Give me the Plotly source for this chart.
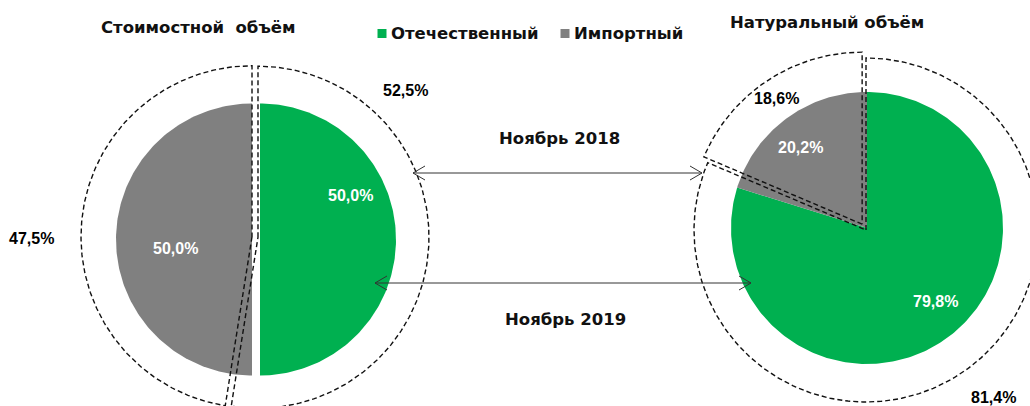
#!/usr/bin/env python3
import numpy as np
import plotly.graph_objects as go

# Data
categories = ['Отечественный', 'Импортный']
value_2018 = [52.5, 47.5]     # стоимостной объём, ноябрь 2018 (outer dashed)
value_2019 = [50.0, 50.0]     # стоимостной объём, ноябрь 2019 (inner solid)
natural_2018 = [81.4, 18.6]   # натуральный объём, ноябрь 2018 (outer dashed)
natural_2019 = [79.8, 20.2]   # натуральный объём, ноябрь 2019 (inner solid)
period_labels = ['Ноябрь 2018', 'Ноябрь 2019']
chart_titles = ['Стоимостной  объём', 'Натуральный объём']

colors = ['#00b050', '#808080']
W, H = 1030, 406
DASH = dict(color='#111111', width=1.4, dash='5px,3px')


def fmt(v):
    return f"{v:.1f}".replace('.', ',') + '%'


def wedges(values, cx, cy, r, explode):
    """Yield polygon (x, y) of every slice, clockwise from 12 o'clock, in pixel coords."""
    total = sum(values)
    start = 0.0
    for v, e in zip(values, explode):
        end = start + v / total * 360
        mid = np.radians((start + end) / 2)
        ox, oy = cx + e * np.sin(mid), cy - e * np.cos(mid)
        ang = np.radians(np.linspace(start, end, max(int(end - start), 2) + 1))
        xs = np.concatenate([[ox], ox + r * np.sin(ang), [ox]])
        ys = np.concatenate([[oy], oy - r * np.cos(ang), [oy]])
        yield xs, ys
        start = end


fig = go.Figure()

pies = [
    # (inner values, outer values, center, inner r, outer r, inner explode, outer explode, outer center)
    (value_2019, value_2018, (256, 239.5), 136, 171, [4, 4], [3, 3], (255, 237)),
    (natural_2019, natural_2018, (867, 228), 136, 172, [0, 0], [0, 7], (866, 230)),
]

for inner, outer, (cx, cy), ri, ro, ei, eo, (ocx, ocy) in pies:
    for (xs, ys), col, name in zip(wedges(inner, cx, cy, ri, ei), colors, categories):
        fig.add_trace(go.Scatter(x=xs, y=ys, mode='lines', fill='toself',
                                 fillcolor=col, line=dict(width=0), name=name,
                                 showlegend=False, hoverinfo='skip'))
    for xs, ys in wedges(outer, ocx, ocy, ro, eo):
        fig.add_trace(go.Scatter(x=xs, y=ys, mode='lines', line=DASH,
                                 showlegend=False, hoverinfo='skip'))

# Percentage labels
pct_font = dict(family='Liberation Sans, Arial', size=16)
labels = [
    (value_2019[0], 350, 195, 'white'), (value_2019[1], 175, 248, 'white'),
    (value_2018[0], 405, 90, 'black'), (value_2018[1], 31, 238, 'black'),
    (natural_2019[0], 935, 301, 'white'), (natural_2019[1], 800, 147, 'white'),
    (natural_2018[0], 993, 397, 'black'), (natural_2018[1], 776, 98, 'black'),
]
for v, x, y, c in labels:
    fig.add_annotation(x=x, y=y, text=f"<b>{fmt(v)}</b>", showarrow=False,
                       font=dict(color=c, **pct_font), xanchor='center', yanchor='middle')

title_font = dict(family='DejaVu Sans', size=16.5, color='#111111')
for t, x, y in zip(chart_titles, [198, 827], [27, 22]):
    fig.add_annotation(x=x, y=y, text=f"<b>{t}</b>", showarrow=False, font=title_font,
                       xanchor='center', yanchor='middle')

for t, x, y in zip(period_labels, [559, 565], [138, 319]):
    fig.add_annotation(x=x, y=y, text=f"<b>{t}</b>", showarrow=False, font=title_font,
                       xanchor='center', yanchor='middle')

# Legend
for name, col, sx in zip(categories, colors, [382, 565]):
    fig.add_shape(type='rect', x0=sx - 4.5, x1=sx + 4.5, y0=29, y1=38,
                  fillcolor=col, line=dict(width=0))
    fig.add_annotation(x=sx + 7, y=33.5, text=f"<b>{name}</b>", showarrow=False,
                       font=title_font, xanchor='left', yanchor='middle')

# Double-headed arrows linking the two pies
arrow_line = dict(color='#333333', width=1)
for x0, x1, y in [(413, 702, 173), (375, 751, 283)]:
    fig.add_shape(type='line', x0=x0, x1=x1, y0=y, y1=y, line=arrow_line)
    fig.add_shape(type='path', path=f"M {x0 + 12},{y - 7} L {x0},{y} L {x0 + 12},{y + 7}",
                  line=arrow_line)
    fig.add_shape(type='path', path=f"M {x1 - 12},{y - 7} L {x1},{y} L {x1 - 12},{y + 7}",
                  line=arrow_line)

fig.update_layout(
    width=W, height=H,
    margin=dict(l=0, r=0, t=0, b=0),
    paper_bgcolor='white', plot_bgcolor='white',
    showlegend=False,
    xaxis=dict(range=[0, W], visible=False, fixedrange=True),
    yaxis=dict(range=[H, 0], visible=False, fixedrange=True),
)

fig.write_html("out.html", config={'displayModeBar': False},
               post_script="document.body.style.margin='0';")
